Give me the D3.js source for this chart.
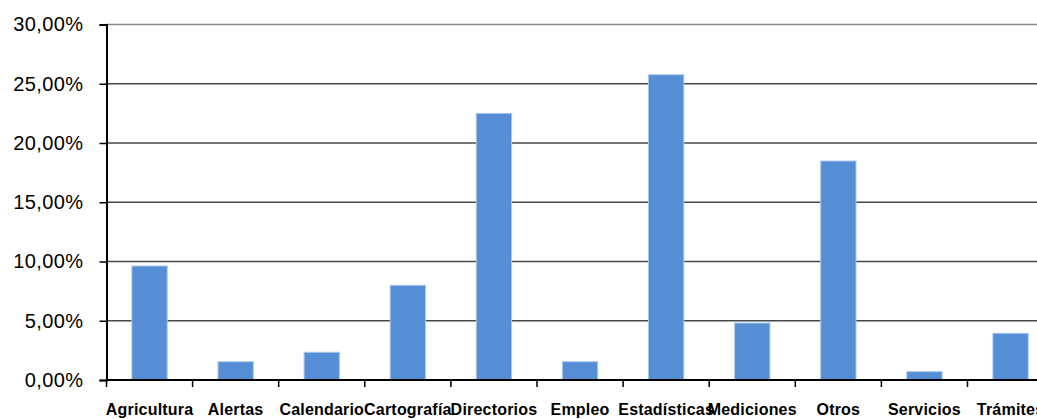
<!DOCTYPE html>
<html>
<head>
<meta charset="utf-8">
<script src="https://d3js.org/d3.v7.min.js"></script>
<style>
  body { margin: 0; background: #fff; }
  svg { display: block; }
</style>
</head>
<body>
<svg id="chart" width="1037" height="419"></svg>
<script>
// categories and values (share)
var categories = ["Agricultura", "Alertas", "Calendario", "Cartografía", "Directorios", "Empleo",
                  "Estadísticas", "Mediciones", "Otros", "Servicios", "Trámites"];
var values = [0.0962, 0.0154, 0.0234, 0.0799, 0.2250, 0.0154, 0.2576, 0.0481, 0.1848, 0.0070, 0.0394];
var yTicks = [0, 0.05, 0.10, 0.15, 0.20, 0.25, 0.30];

var svg = d3.select("#chart");

// plot edges (note: "top" is a reserved window prop, so use other names)
var plotLeft = 106.5, plotTop = 24.5, plotBottom = 380;
var band = 86.1;

// spanish number format: 30,00%
var es = d3.formatLocale({decimal: ",", thousands: ".", grouping: [3], currency: ["", "€"]});
var pct = es.format(".2%");

var x = d3.scaleBand()
  .domain(categories)
  .range([plotLeft, plotLeft + band * categories.length])
  .paddingInner(0.59)
  .paddingOuter(0.295);

var y = d3.scaleLinear()
  .domain([0, 0.30])
  .range([plotBottom, plotTop]);

// gridlines
svg.append("g")
  .selectAll("line")
  .data(yTicks.slice(1))
  .enter()
  .append("line")
  .attr("x1", plotLeft)
  .attr("x2", 1037)
  .attr("y1", function(d) { return y(d); })
  .attr("y2", function(d) { return y(d); })
  .attr("stroke", function(d) { return d === 0.30 ? "#8a8a8a" : "#474747"; })
  .attr("stroke-width", 1.6);

// bars
svg.append("g")
  .selectAll("rect")
  .data(values)
  .enter()
  .append("rect")
  .attr("x", function(d, i) { return x(categories[i]); })
  .attr("y", function(d) { return y(d); })
  .attr("width", x.bandwidth())
  .attr("height", function(d) { return plotBottom - y(d); })
  .attr("fill", "#558ed5")
  .attr("stroke", "#a9c6ec")
  .attr("stroke-width", 1);

// y axis
var yAxis = svg.append("g")
  .attr("transform", "translate(" + plotLeft + ",0)")
  .call(d3.axisLeft(y).tickValues(yTicks).tickFormat(pct).tickSize(7).tickPadding(16));
yAxis.select(".domain").attr("stroke", "#000").attr("stroke-width", 2);
yAxis.selectAll(".tick line").attr("stroke", "#000").attr("stroke-width", 1.5);
yAxis.selectAll("text")
  .attr("fill", "#000")
  .style("font-family", "Arial, 'Liberation Sans', sans-serif")
  .style("font-size", "20px")
  .style("letter-spacing", "0.4px");

// x axis baseline
svg.append("line")
  .attr("x1", plotLeft)
  .attr("x2", 1037)
  .attr("y1", plotBottom)
  .attr("y2", plotBottom)
  .attr("stroke", "#000")
  .attr("stroke-width", 2);

// x ticks at category boundaries
var bounds = d3.range(categories.length + 1).map(function(i) { return plotLeft + i * band; });
svg.append("g")
  .selectAll("line")
  .data(bounds)
  .enter()
  .append("line")
  .attr("x1", function(d) { return d; })
  .attr("x2", function(d) { return d; })
  .attr("y1", plotBottom)
  .attr("y2", plotBottom + 7)
  .attr("stroke", "#000")
  .attr("stroke-width", 1.5);

// category labels
var xAxis = svg.append("g")
  .attr("transform", "translate(0," + plotBottom + ")")
  .call(d3.axisBottom(x).tickSize(0).tickPadding(24));
xAxis.select(".domain").remove();
xAxis.selectAll("text")
  .attr("fill", "#000")
  .style("font-family", "Arial, 'Liberation Sans', sans-serif")
  .style("font-size", "16px")
  .style("font-weight", "bold")
  .style("letter-spacing", "0.2px");
</script>
</body>
</html>
